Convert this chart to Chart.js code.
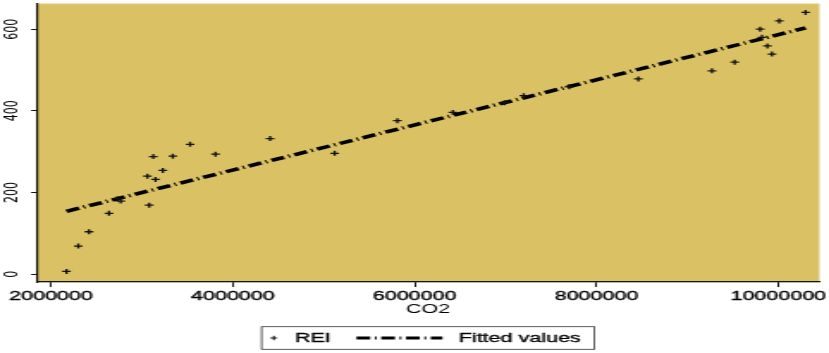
<!DOCTYPE html>
<html>
<head>
<meta charset="utf-8">
<script src="https://cdn.jsdelivr.net/npm/chart.js@4.4.1/dist/chart.umd.min.js"></script>
<style>
  html, body { margin: 0; padding: 0; background: #fff; overflow: hidden; }
  /* the reference is a horizontally stretched export, so the chart is drawn narrow and widened */
  #wrap { width: 482px; height: 353px; transform: scaleX(1.72); transform-origin: 0 0; }
</style>
</head>
<body>
<div id="wrap"><canvas id="chart" width="482" height="353"></canvas></div>
<script>
// Values
const co2 = [2170000, 2300000, 2418000, 2638000, 2730000, 2767000, 3060000, 3080000, 3125000, 3150000,
             3230000, 3340000, 3530000, 3810000, 4410000, 5120000, 5810000, 6420000, 6990000, 7200000,
             7700000, 8460000, 9270000, 9520000, 9800000, 9820000, 9880000, 9930000, 10010000, 10300000];
const rei = [7, 69, 104, 149, 185, 179, 240, 169, 288, 232,
             254, 289, 318, 294, 332, 296, 376, 396, 420, 437,
             459, 478, 498, 519, 600, 580, 559, 539, 620, 641];
// fitted line, end points
const fitX = [2170000, 10300000];
const fitY = [154, 603];

const xTicks = [2000000, 4000000, 6000000, 8000000, 10000000];
const yTicks = [0, 200, 400, 600];
const seriesNames = ['REI', 'Fitted values'];
const xTitle = 'CO2';

const PLOT_BG = '#d9c164';
const INK = '#111';
const FONT = '"Liberation Sans", Arial, sans-serif';
const FIT_DASH = [8, 2.7, 1, 2.7];

// fill the plot region (Chart.js has no chartArea background option)
const plotBackground = {
  id: 'plotBackground',
  beforeDraw(chart) {
    const { ctx, chartArea: a } = chart;
    ctx.save();
    ctx.fillStyle = PLOT_BG;
    ctx.fillRect(a.left, a.top, a.right - a.left, a.bottom - a.top);
    ctx.strokeStyle = '#e8dba0';
    ctx.lineWidth = 0.8;
    ctx.strokeRect(a.left, a.top, a.right - a.left, a.bottom - a.top);
    ctx.restore();
  }
};

// boxed legend under the x title, centred on the plot
const boxLegend = {
  id: 'boxLegend',
  afterDraw(chart) {
    const { ctx, chartArea: a } = chart;
    ctx.save();
    ctx.font = '12.5px ' + FONT;
    const w1 = ctx.measureText(seriesNames[0]).width;
    const w2 = ctx.measureText(seriesNames[1]).width;
    const total = 19.3 + w1 + 15 + 50 + 9.5 + w2 + 8;
    const left = (a.left + a.right) / 2 - total / 2;
    const top = 326.7, h = 22.6, midY = 338, baseY = 342.3;

    ctx.strokeStyle = '#333';
    ctx.lineWidth = 0.8;
    ctx.strokeRect(left, top, total, h);

    // "+" marker
    const mx = left + 7.1;
    ctx.strokeStyle = INK;
    ctx.lineWidth = 1;
    ctx.beginPath();
    ctx.moveTo(mx - 2, midY); ctx.lineTo(mx + 2, midY);
    ctx.moveTo(mx, midY - 2.2); ctx.lineTo(mx, midY + 2.2);
    ctx.stroke();

    ctx.fillStyle = '#000';
    ctx.strokeStyle = '#000';
    ctx.lineWidth = 0.35;
    ctx.textBaseline = 'alphabetic';
    let x = left + 19.3;
    ctx.fillText(seriesNames[0], x, baseY);
    ctx.strokeText(seriesNames[0], x, baseY);
    x += w1 + 15;

    // dash-dot sample
    ctx.lineWidth = 3;
    ctx.setLineDash(FIT_DASH);
    ctx.beginPath();
    ctx.moveTo(x, midY); ctx.lineTo(x + 50, midY);
    ctx.stroke();
    ctx.setLineDash([]);
    x += 50 + 9.5;
    ctx.lineWidth = 0.35;
    ctx.fillText(seriesNames[1], x, baseY);
    ctx.strokeText(seriesNames[1], x, baseY);
    ctx.restore();
  }
};

const axisGrid = (len) => ({
  display: true, drawOnChartArea: false, drawTicks: true,
  tickLength: len, color: INK, lineWidth: 1
});

new Chart(document.getElementById('chart'), {
  type: 'scatter',
  data: {
    datasets: [
      {
        label: seriesNames[0],
        data: co2.map((x, i) => ({ x: x, y: rei[i] })),
        pointStyle: 'cross',
        pointRadius: 2.5,
        pointHoverRadius: 2.5,
        pointBorderWidth: 1.3,
        borderColor: INK,
        backgroundColor: INK
      },
      {
        label: seriesNames[1],
        data: fitX.map((x, i) => ({ x: x, y: fitY[i] })),
        showLine: true,
        borderColor: '#000',
        borderWidth: 3.5,
        borderDash: FIT_DASH,
        pointRadius: 0,
        pointHoverRadius: 0
      }
    ]
  },
  options: {
    responsive: false,
    animation: false,
    devicePixelRatio: 1,
    layout: { padding: { left: 0, right: 5.8, top: 2, bottom: 35.5 } },
    plugins: { legend: { display: false }, tooltip: { enabled: false } },
    scales: {
      x: {
        type: 'linear',
        min: 1846000,
        max: 10448000,
        afterBuildTicks: (s) => { s.ticks = xTicks.map(v => ({ value: v })); },
        afterFit: (s) => { s.height = 35.5; s.paddingLeft = 0; s.paddingRight = 0; },
        ticks: {
          autoSkip: false, maxRotation: 0, padding: 2, color: '#000',
          textStrokeColor: '#000', textStrokeWidth: 0.35,
          font: { family: FONT, size: 12.5 },
          callback: (v) => String(v)
        },
        grid: axisGrid(5),
        border: { display: true, color: INK, width: 1.2 },
        title: {
          display: true, text: xTitle, color: '#000',
          font: { family: FONT, size: 12.5 },
          padding: { top: 0, bottom: 0 }
        }
      },
      y: {
        type: 'linear',
        min: -19,
        max: 662,
        afterBuildTicks: (s) => { s.ticks = yTicks.map(v => ({ value: v })); },
        afterFit: (s) => { s.width = 21.5; s.paddingTop = 0; s.paddingBottom = 0; },
        ticks: {
          minRotation: 90, maxRotation: 90, crossAlign: 'center', padding: 0.5,
          color: '#000',
          font: { family: '"DejaVu Sans", sans-serif', size: 11 },
          callback: (v) => String(v)
        },
        grid: axisGrid(3.4),
        border: { display: true, color: INK, width: 1.2 }
      }
    }
  },
  plugins: [plotBackground, boxLegend]
});
</script>
</body>
</html>
